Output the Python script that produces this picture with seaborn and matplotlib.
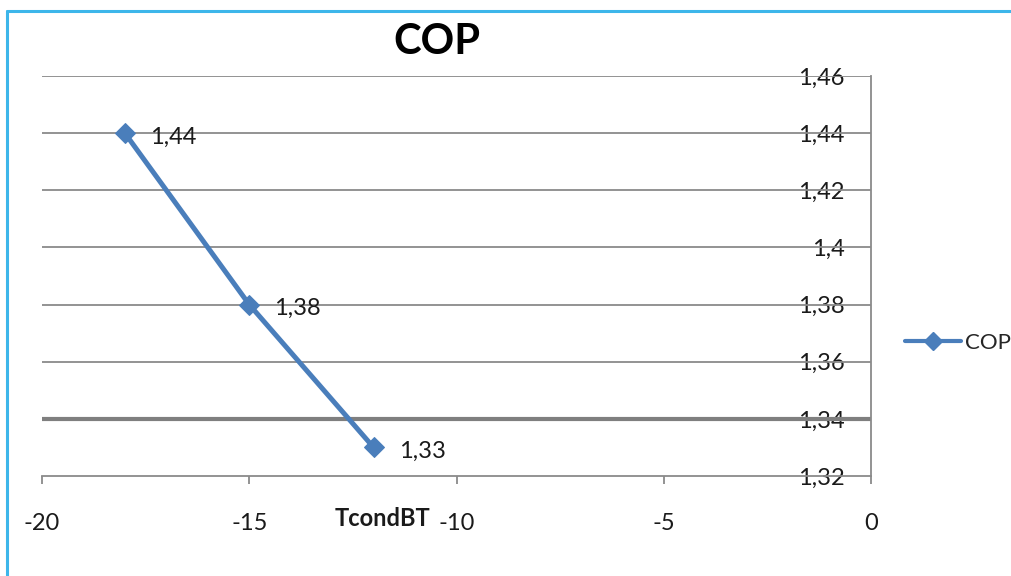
import matplotlib
matplotlib.use("Agg")
import matplotlib.pyplot as plt
from matplotlib.lines import Line2D
import seaborn as sns
import pandas as pd

# Data
tcond = [-18, -15, -12]
cop = [1.44, 1.38, 1.33]
x_ticks = [-20, -15, -10, -5, 0]
y_ticks = [1.32, 1.34, 1.36, 1.38, 1.40, 1.42, 1.44, 1.46]
series_name = "COP"

sns.set_theme(style="white")
plt.rcParams["font.family"] = ["Lato", "DejaVu Sans"]
plt.rcParams["axes.unicode_minus"] = False

def fmt(v):
    return f"{v:g}".replace(".", ",")

fig = plt.figure(figsize=(10.11, 5.76), dpi=100)
ax = fig.add_axes([42 / 1011, 1 - 476 / 576, (871 - 42) / 1011, 400 / 576])

df = pd.DataFrame({"TcondBT": tcond, series_name: cop})
line_color = "#4a7ebb"
grid_color = "#8a8a8a"
text_color = "#1a1a1a"
fs = 17

# Horizontal gridlines, with the heavier crossing line at 1,34
for yv in y_ticks[1:]:
    ax.axhline(yv, color=grid_color, lw=1.3, zorder=1)
ax.axhline(1.34, color="#7f7f7f", lw=3.0, zorder=1.5)

sns.lineplot(data=df, x="TcondBT", y=series_name, ax=ax, color=line_color,
             lw=3.6, marker="D", markersize=10, markeredgecolor=line_color,
             label=series_name, legend=False, zorder=3)

for xv, yv in zip(tcond, cop):
    ax.annotate(fmt(yv), (xv, yv), xytext=(18, -3), textcoords="offset points",
                ha="left", va="center", fontsize=fs, color=text_color)

ax.set_xlim(-20, 0)
ax.set_ylim(1.32, 1.46)
ax.set_xticks(x_ticks)
ax.set_xticklabels([fmt(v) for v in x_ticks])
ax.set_yticks(y_ticks)
ax.set_yticklabels([fmt(v) for v in y_ticks])

for side in ["left", "top"]:
    ax.spines[side].set_visible(False)
for side in ["bottom", "right"]:
    ax.spines[side].set_visible(True)
    ax.spines[side].set_color(grid_color)
    ax.spines[side].set_linewidth(1.3)

ax.tick_params(axis="x", bottom=True, length=6, width=1.3, color=grid_color,
               pad=21, labelsize=fs, labelcolor=text_color)
ax.tick_params(axis="y", left=False, right=False, labelleft=False,
               labelright=True, pad=-25, labelsize=fs, labelcolor=text_color)
for lab in ax.get_yticklabels():
    lab.set_horizontalalignment("right")

ax.set_ylabel("")
ax.set_xlabel("TcondBT", fontsize=fs, fontweight="bold", color=text_color)
ax.xaxis.set_label_coords(0.468, -0.105)
ax.xaxis.label.set_horizontalalignment("right")
ax.xaxis.label.set_verticalalignment("center")

fig.text(437 / 1011, 1 - 42 / 576, "COP", ha="center", va="center",
         fontsize=30, fontweight="bold", color="black")

handle = Line2D([], [], color=line_color, lw=3.0, marker="D", markersize=9,
                markeredgecolor=line_color)
fig.legend([handle], [series_name], loc="center left",
           bbox_to_anchor=(905 / 1011, 1 - 343 / 576), frameon=False,
           fontsize=fs - 1, handlelength=2.5, handletextpad=0.2, borderpad=0,
           borderaxespad=0)

# Chart-area border along the top and left edges
border = "#3db6ea"
fig.add_artist(Line2D([7 / 1011, 7 / 1011], [0, 1 - 11 / 576],
                      transform=fig.transFigure, color=border, lw=2.2))
fig.add_artist(Line2D([7 / 1011, 1], [1 - 11 / 576, 1 - 11 / 576],
                      transform=fig.transFigure, color=border, lw=2.2))

fig.savefig("out.png", dpi=100)
